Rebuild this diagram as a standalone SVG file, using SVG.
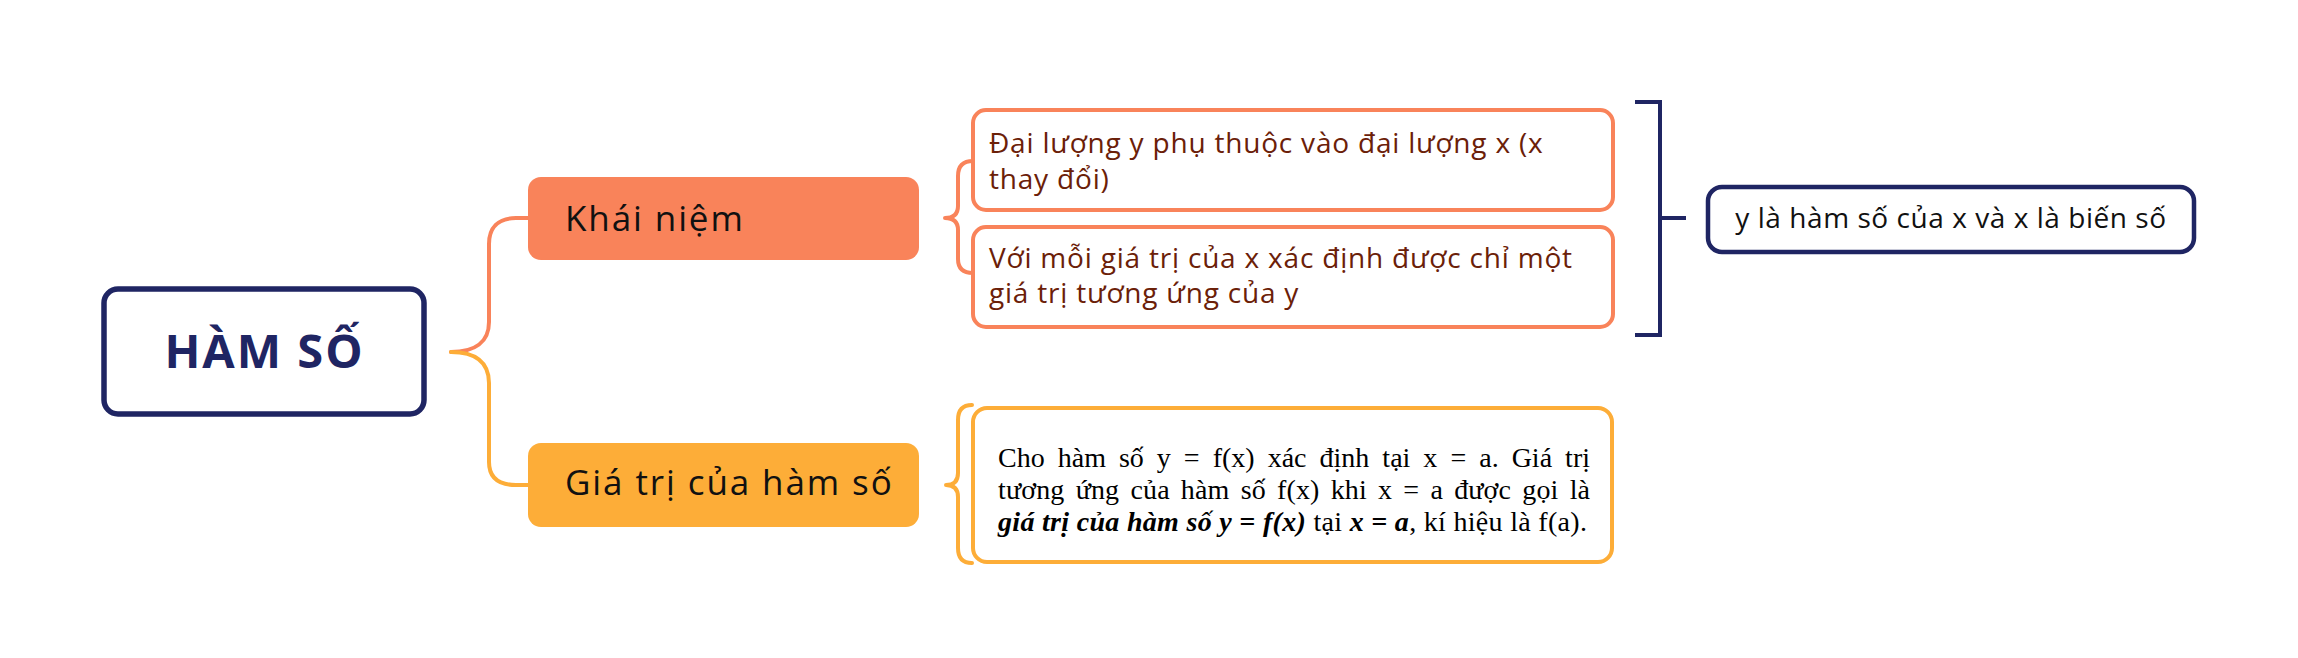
<svg xmlns="http://www.w3.org/2000/svg" width="2298" height="658" viewBox="0 0 2298 658">
<style>
.navy{stroke:#1f2563;fill:none}
.conn{fill:none;stroke-width:4;stroke-linecap:round;stroke-linejoin:round}
.o{stroke:#f9835a}
.y{stroke:#fdad38}
.sans{font-family:"Open Sans","Noto Sans","DejaVu Sans",sans-serif}
.lbl{font-size:35px;fill:#111111;letter-spacing:1.9px}
.sub{font-size:28px;fill:#6b2008;letter-spacing:0.8px}
.ser{font-family:"Liberation Serif","Times New Roman",serif;font-size:28px;fill:#000}
.bi{font-weight:bold;font-style:italic}
</style>
<rect width="2298" height="658" fill="#ffffff"/>
<g id="connectors">
<path class="conn o" d="M451,352 C475,352 489,342 489,322 L489,244 C489,228 498,218 516,218 L528,218"/>
<path class="conn y" d="M451,352 C475,352 489,362 489,383 L489,462 C489,477 498,485 516,485 L528,485"/>
<path class="conn o" d="M973,161 Q958,161 958,176 L958,206 Q958,218 945,218 Q958,218 958,230 L958,259 Q958,273 973,273"/>
<path class="conn y" d="M972,405 Q958,405 958,420 L958,473 Q958,485 946,485 Q958,485 958,497 L958,548 Q958,563 972,563"/>
<path class="navy" stroke-width="4" d="M1635,102 L1660,102 L1660,335 L1635,335 M1660,218 L1686,218"/>
</g>
<g id="root">
<rect x="104" y="289" width="320" height="125" rx="14" fill="#ffffff" class="navy" stroke-width="5.5"/>
<text x="264.5" y="368" text-anchor="middle" class="sans" font-size="47" font-weight="bold" fill="#1f2563" letter-spacing="2">HÀM SỐ</text>
</g>
<g id="khai-niem">
<rect x="528" y="177" width="391" height="83" rx="13" fill="#f9835a"/>
<text x="565" y="231" class="sans lbl">Khái niệm</text>
</g>
<g id="gia-tri">
<rect x="528" y="443" width="391" height="84" rx="13" fill="#fdad38"/>
<text x="565" y="495" class="sans lbl" letter-spacing="1.3">Giá trị của hàm số</text>
</g>
<g id="dai-luong">
<rect x="973" y="110" width="640" height="100" rx="13" fill="#ffffff" stroke="#f9835a" stroke-width="4"/>
<text x="989" y="153" class="sans sub">Đại lượng y phụ thuộc vào đại lượng x (x</text>
<text x="989" y="189" class="sans sub">thay đổi)</text>
</g>
<g id="voi-moi">
<rect x="973" y="227" width="640" height="100" rx="13" fill="#ffffff" stroke="#f9835a" stroke-width="4"/>
<text x="989" y="268" class="sans sub">Với mỗi giá trị của x xác định được chỉ một</text>
<text x="989" y="303" class="sans sub">giá trị tương ứng của y</text>
</g>
<g id="ham-so-bien-so">
<rect x="1708" y="187" width="486" height="65" rx="14" fill="#ffffff" class="navy" stroke-width="4.5"/>
<text x="1951" y="228" text-anchor="middle" class="sans" font-size="28" fill="#111111" letter-spacing="0.55">y là hàm số của x và x là biến số</text>
</g>
<g id="dinh-nghia">
<rect x="973" y="408" width="639" height="154" rx="14" fill="#ffffff" stroke="#fdad38" stroke-width="4"/>
<text x="998" y="467" class="ser" word-spacing="6" textLength="592" lengthAdjust="spacing">Cho hàm số y = f(x) xác định tại x = a. Giá trị</text>
<text x="998" y="499" class="ser" word-spacing="4" textLength="592" lengthAdjust="spacing">tương ứng của hàm số f(x) khi x = a được gọi là</text>
<text x="998" y="531" class="ser" textLength="589" lengthAdjust="spacing"><tspan class="bi">giá trị của hàm số y = f(x)</tspan> tại <tspan class="bi">x = a</tspan>, kí hiệu là f(a).</text>
</g>
</svg>
